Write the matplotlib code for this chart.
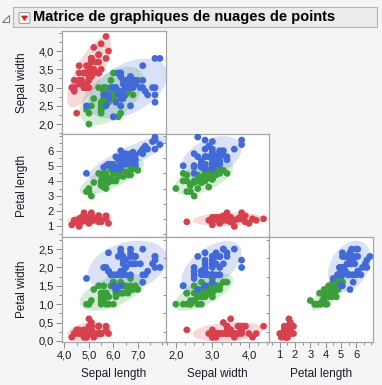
import numpy as np
import matplotlib
matplotlib.use("Agg")
import matplotlib.pyplot as plt
from matplotlib.patches import Ellipse, Rectangle, FancyBboxPatch, Polygon
from matplotlib.ticker import MultipleLocator, FuncFormatter, FixedLocator

# ---------------- data (Fisher's iris) ----------------
sepal_length = [5.1,4.9,4.7,4.6,5.0,5.4,4.6,5.0,4.4,4.9,5.4,4.8,4.8,4.3,5.8,5.7,5.4,5.1,5.7,5.1,
                5.4,5.1,4.6,5.1,4.8,5.0,5.0,5.2,5.2,4.7,4.8,5.4,5.2,5.5,4.9,5.0,5.5,4.9,4.4,5.1,
                5.0,4.5,4.4,5.0,5.1,4.8,5.1,4.6,5.3,5.0,
                7.0,6.4,6.9,5.5,6.5,5.7,6.3,4.9,6.6,5.2,5.0,5.9,6.0,6.1,5.6,6.7,5.6,5.8,6.2,5.6,
                5.9,6.1,6.3,6.1,6.4,6.6,6.8,6.7,6.0,5.7,5.5,5.5,5.8,6.0,5.4,6.0,6.7,6.3,5.6,5.5,
                5.5,6.1,5.8,5.0,5.6,5.7,5.7,6.2,5.1,5.7,
                6.3,5.8,7.1,6.3,6.5,7.6,4.9,7.3,6.7,7.2,6.5,6.4,6.8,5.7,5.8,6.4,6.5,7.7,7.7,6.0,
                6.9,5.6,7.7,6.3,6.7,7.2,6.2,6.1,6.4,7.2,7.4,7.9,6.4,6.3,6.1,7.7,6.3,6.4,6.0,6.9,
                6.7,6.9,5.8,6.8,6.7,6.7,6.3,6.5,6.2,5.9]
sepal_width = [3.5,3.0,3.2,3.1,3.6,3.9,3.4,3.4,2.9,3.1,3.7,3.4,3.0,3.0,4.0,4.4,3.9,3.5,3.8,3.8,
               3.4,3.7,3.6,3.3,3.4,3.0,3.4,3.5,3.4,3.2,3.1,3.4,4.1,4.2,3.1,3.2,3.5,3.6,3.0,3.4,
               3.5,2.3,3.2,3.5,3.8,3.0,3.8,3.2,3.7,3.3,
               3.2,3.2,3.1,2.3,2.8,2.8,3.3,2.4,2.9,2.7,2.0,3.0,2.2,2.9,2.9,3.1,3.0,2.7,2.2,2.5,
               3.2,2.8,2.5,2.8,2.9,3.0,2.8,3.0,2.9,2.6,2.4,2.4,2.7,2.7,3.0,3.4,3.1,2.3,3.0,2.5,
               2.6,3.0,2.6,2.3,2.7,3.0,2.9,2.9,2.5,2.8,
               3.3,2.7,3.0,2.9,3.0,3.0,2.5,2.9,2.5,3.6,3.2,2.7,3.0,2.5,2.8,3.2,3.0,3.8,2.6,2.2,
               3.2,2.8,2.8,2.7,3.3,3.2,2.8,3.0,2.8,3.0,2.8,3.8,2.8,2.8,2.6,3.0,3.4,3.1,3.0,3.1,
               3.1,3.1,2.7,3.2,3.3,3.0,2.5,3.0,3.4,3.0]
petal_length = [1.4,1.4,1.3,1.5,1.4,1.7,1.4,1.5,1.4,1.5,1.5,1.6,1.4,1.1,1.2,1.5,1.3,1.4,1.7,1.5,
                1.7,1.5,1.0,1.7,1.9,1.6,1.6,1.5,1.4,1.6,1.6,1.5,1.5,1.4,1.5,1.2,1.3,1.4,1.3,1.5,
                1.3,1.3,1.3,1.6,1.9,1.4,1.6,1.4,1.5,1.4,
                4.7,4.5,4.9,4.0,4.6,4.5,4.7,3.3,4.6,3.9,3.5,4.2,4.0,4.7,3.6,4.4,4.5,4.1,4.5,3.9,
                4.8,4.0,4.9,4.7,4.3,4.4,4.8,5.0,4.5,3.5,3.8,3.7,3.9,5.1,4.5,4.5,4.7,4.4,4.1,4.0,
                4.4,4.6,4.0,3.3,4.2,4.2,4.2,4.3,3.0,4.1,
                6.0,5.1,5.9,5.6,5.8,6.6,4.5,6.3,5.8,6.1,5.1,5.3,5.5,5.0,5.1,5.3,5.5,6.7,6.9,5.0,
                5.7,4.9,6.7,4.9,5.7,6.0,4.8,4.9,5.6,5.8,6.1,6.4,5.6,5.1,5.6,6.1,5.6,5.5,4.8,5.4,
                5.6,5.1,5.1,5.9,5.7,5.2,5.0,5.2,5.4,5.1]
petal_width = [0.2,0.2,0.2,0.2,0.2,0.4,0.3,0.2,0.2,0.1,0.2,0.2,0.1,0.1,0.2,0.4,0.4,0.3,0.3,0.3,
               0.2,0.4,0.2,0.5,0.2,0.2,0.4,0.2,0.2,0.2,0.2,0.4,0.1,0.2,0.2,0.2,0.2,0.1,0.2,0.2,
               0.3,0.3,0.2,0.6,0.4,0.3,0.2,0.2,0.2,0.2,
               1.4,1.5,1.5,1.3,1.5,1.3,1.6,1.0,1.3,1.4,1.0,1.5,1.0,1.4,1.3,1.4,1.5,1.0,1.5,1.1,
               1.8,1.3,1.5,1.2,1.3,1.4,1.4,1.7,1.5,1.0,1.1,1.0,1.2,1.6,1.5,1.6,1.5,1.3,1.3,1.3,
               1.2,1.4,1.2,1.0,1.3,1.2,1.3,1.3,1.1,1.3,
               2.5,1.9,2.1,1.8,2.2,2.1,1.7,1.8,1.8,2.5,2.0,1.9,2.1,2.0,2.4,2.3,1.8,2.2,2.3,1.5,
               2.3,2.0,2.0,1.8,2.1,1.8,1.8,1.8,2.1,1.6,1.9,2.0,2.2,1.5,1.4,2.3,2.4,1.8,1.8,2.1,
               2.4,2.3,1.9,2.3,2.5,2.3,1.9,2.0,2.3,1.8]
species = ["setosa"] * 50 + ["versicolor"] * 50 + ["virginica"] * 50
species_order = ["setosa", "versicolor", "virginica"]

var_names = ["Sepal length", "Sepal width", "Petal length", "Petal width"]
title = "Matrice de graphiques de nuages de points"

# tick labels shown on the axes
xticks = {"Sepal length": [4.0, 5.0, 6.0, 7.0], "Sepal width": [2.0, 3.0, 4.0],
          "Petal length": [1, 2, 3, 4, 5, 6]}
yticks = {"Sepal width": [2.0, 2.5, 3.0, 3.5, 4.0], "Petal length": [1, 2, 3, 4, 5, 6],
          "Petal width": [0.0, 0.5, 1.0, 1.5, 2.0, 2.5]}

# ---------------- style ----------------
colors = {"setosa": "#d7414e", "versicolor": "#3ba03c", "virginica": "#4169d8"}
limits = {"Sepal length": (3.9, 8.15), "Sepal width": (1.73, 4.55),
          "Petal length": (0.3, 7.1), "Petal width": (-0.03, 2.83)}
minor = {"Sepal length": 0.5, "Sepal width": 0.25, "Petal length": 0.5, "Petal width": 0.25}
decimals = {"Sepal length": 1, "Sepal width": 1, "Petal length": 0, "Petal width": 1}

FONT = ["Liberation Sans", "DejaVu Sans"]
plt.rcParams["font.family"] = FONT

data = {"Sepal length": np.array(sepal_length), "Sepal width": np.array(sepal_width),
        "Petal length": np.array(petal_length), "Petal width": np.array(petal_width)}
spec = np.array(species)

W, H = 382, 385
fig = plt.figure(figsize=(W / 100, H / 100), dpi=100)
fig.patch.set_facecolor("#f5f5f5")

col_edges = [62, 166, 269, 373]
row_edges = [31, 134, 237, 342]

def fmt_factory(d):
    def f(v, pos):
        return f"{v:.{d}f}".replace(".", ",")
    return FuncFormatter(f)

ELL_SCALE = 6.5

for r in range(3):
    yvar = var_names[r + 1]
    for c in range(r + 1):
        xvar = var_names[c]
        x0, x1 = col_edges[c], col_edges[c + 1]
        y0, y1 = row_edges[r], row_edges[r + 1]
        ax = fig.add_axes([x0 / W, 1 - y1 / H, (x1 - x0) / W, (y1 - y0) / H])
        ax.set_facecolor("white")
        for sp in ax.spines.values():
            sp.set_color("#a6a6a6")
            sp.set_linewidth(0.9)
        ax.set_xlim(*limits[xvar])
        ax.set_ylim(*limits[yvar])

        for s in species_order:
            m = spec == s
            xs, ys = data[xvar][m], data[yvar][m]
            cov = np.cov(xs, ys)
            vals, vecs = np.linalg.eigh(cov)
            order = vals.argsort()[::-1]
            vals, vecs = vals[order], vecs[:, order]
            ang = np.degrees(np.arctan2(vecs[1, 0], vecs[0, 0]))
            e = Ellipse((xs.mean(), ys.mean()), 2 * np.sqrt(ELL_SCALE * vals[0]),
                        2 * np.sqrt(ELL_SCALE * vals[1]), angle=ang,
                        facecolor=colors[s], alpha=0.2, edgecolor="none", zorder=1)
            ax.add_patch(e)
        for s in species_order:
            m = spec == s
            ax.scatter(data[xvar][m], data[yvar][m], s=24, color=colors[s],
                       edgecolors="none", zorder=3)

        ax.xaxis.set_major_locator(FixedLocator(xticks[xvar]))
        ax.xaxis.set_minor_locator(MultipleLocator(minor[xvar]))
        ax.yaxis.set_major_locator(FixedLocator(yticks[yvar]))
        ax.yaxis.set_minor_locator(MultipleLocator(minor[yvar]))
        ax.xaxis.set_major_formatter(fmt_factory(decimals[xvar]))
        ax.yaxis.set_major_formatter(fmt_factory(decimals[yvar]))
        ax.tick_params(which="both", color="#8c8c8c", width=0.7, labelsize=8,
                       labelcolor="#1a1a2a")
        ax.tick_params(which="major", length=4.5, pad=1.5)
        ax.tick_params(which="minor", length=2.5)
        ax.tick_params(axis="x", bottom=(r == 2), labelbottom=(r == 2))
        ax.tick_params(axis="y", left=(c == 0), labelleft=(c == 0))

# axis titles
for i, name in enumerate(var_names[1:]):
    yc = (row_edges[i] + row_edges[i + 1]) / 2
    fig.text(22 / W, 1 - yc / H, name, rotation=90, ha="center", va="center",
             fontsize=8.5, color="#1a1a2a")
for i, name in enumerate(var_names[:3]):
    xc = (col_edges[i] + col_edges[i + 1]) / 2
    fig.text(xc / W, 1 - 374 / H, name, ha="center", va="center",
             fontsize=8.5, color="#1a1a2a")

# header bar
hdr = Rectangle((13 / W, 1 - 27 / H), (377 - 13) / W, 20 / H, transform=fig.transFigure,
                facecolor="#ececec", edgecolor="#b4b4b4", linewidth=0.8)
fig.patches.append(hdr)
tri = Polygon([(2 / W, 1 - 22 / H), (9 / W, 1 - 22 / H), (9 / W, 1 - 15 / H)],
              closed=True, transform=fig.transFigure, facecolor="white",
              edgecolor="#7a7a7a", linewidth=0.8)
fig.patches.append(tri)
btn = FancyBboxPatch((19 / W, 1 - 23.5 / H), 11 / W, 11 / H,
                     boxstyle="round,pad=0,rounding_size=0.004",
                     transform=fig.transFigure, facecolor="#f8f8f8",
                     edgecolor="#9a9a9a", linewidth=0.7)
fig.patches.append(btn)
rtri = Polygon([(21.5 / W, 1 - 16 / H), (27.5 / W, 1 - 16 / H), (24.5 / W, 1 - 20.5 / H)],
               closed=True, transform=fig.transFigure, facecolor="#d42020",
               edgecolor="#d42020", linewidth=0.5)
fig.patches.append(rtri)
fig.text(33 / W, 1 - 17.5 / H, title, ha="left", va="center", fontsize=10.5,
         fontweight="bold", color="black")

fig.savefig("out.png", dpi=100, facecolor=fig.get_facecolor())
